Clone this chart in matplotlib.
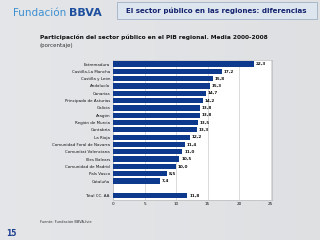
import numpy as np
import matplotlib.pyplot as plt
from matplotlib.patches import Rectangle

regions = ["Extremadura", "Castilla-La Mancha", "Castilla y León", "Andalucía",
           "Canarias", "Principado de Asturias", "Galicia", "Aragón",
           "Región de Murcia", "Cantabria", "La Rioja", "Comunidad Foral de Navarra",
           "Comunitat Valenciana", "Illes Balears", "Comunidad de Madrid",
           "País Vasco", "Cataluña"]
values = [22.3, 17.2, 15.8, 15.3, 14.7, 14.2, 13.8, 13.8, 13.5, 13.3,
          12.2, 11.4, 11.0, 10.5, 10.0, 8.5, 7.4]
total_label = "Total CC. AA."
total_value = 11.8
xticks = [0, 5, 10, 15, 20, 25]

bar_color = "#0d3a8c"

fig = plt.figure(figsize=(3.2, 2.4), dpi=100)
fig.patch.set_facecolor("#eef1f5")

# soft background gradient
bg = fig.add_axes([0, 0, 1, 1], zorder=-10)
grad = np.linspace(0, 1, 256)
bg.imshow(np.tile(grad, (20, 1)), cmap="Greys", vmin=-4, vmax=10,
          aspect="auto", extent=[0, 1, 0, 1], alpha=0.35)
bg.set_xlim(0, 1)
bg.set_ylim(0, 1)
bg.axis("off")

# header
fig.text(0.04, 0.945, "Fundación", color="#3d8fd1", fontsize=7.5, va="center")
fig.text(0.215, 0.945, "BBVA", color="#1d4f9e", fontsize=8, fontweight="bold", va="center")
fig.patches.append(Rectangle((0.365, 0.92), 0.625, 0.07, transform=fig.transFigure,
                             facecolor="#dde6ef", edgecolor="#9fb0c4", lw=0.6))
fig.text(0.675, 0.957, "El sector público en las regiones: diferencias",
         color="#14226e", fontsize=5.1, fontweight="bold", ha="center", va="center")

fig.text(0.125, 0.845, "Participación del sector público en el PIB regional. Media 2000-2008",
         fontsize=4.2, fontweight="bold", color="#111111", va="center")
fig.text(0.125, 0.81, "(porcentaje)", fontsize=4, color="#333333", va="center")

fig.text(0.125, 0.073, "Fuente: Fundación BBVA-Ivie", fontsize=2.6, color="#333333", va="center")
fig.text(0.018, 0.028, "15", fontsize=5.5, fontweight="bold", color="#1d3f8f", va="center")

ax = fig.add_axes([0.353, 0.168, 0.497, 0.582])
ax.set_facecolor("white")

labels = regions + ["", total_label]
vals = values + [np.nan, total_value]
y = np.arange(len(labels))
ax.barh(y, vals, height=0.72, color=bar_color, zorder=3)
for yi, v in zip(y, vals):
    if not np.isnan(v):
        ax.text(v + 0.3, yi, f"{v:.1f}".replace(".", ","), fontsize=3,
                fontweight="bold", va="center", ha="left", color="#111111", zorder=4)

ax.set_yticks(y)
ax.set_yticklabels(labels, fontsize=2.9, color="#111111")
ax.set_ylim(len(labels) - 0.45, -0.55)
ax.set_xlim(0, 25.2)
ax.set_xticks(xticks)
ax.set_xticklabels([str(t) for t in xticks], fontsize=3, color="#111111")
ax.tick_params(length=0, pad=2)
ax.grid(axis="x", color="#cccccc", lw=0.5, zorder=0)
for s in ax.spines.values():
    s.set_color("#bbbbbb")
    s.set_linewidth(0.5)

fig.savefig("out.png", dpi=100, facecolor=fig.get_facecolor())
